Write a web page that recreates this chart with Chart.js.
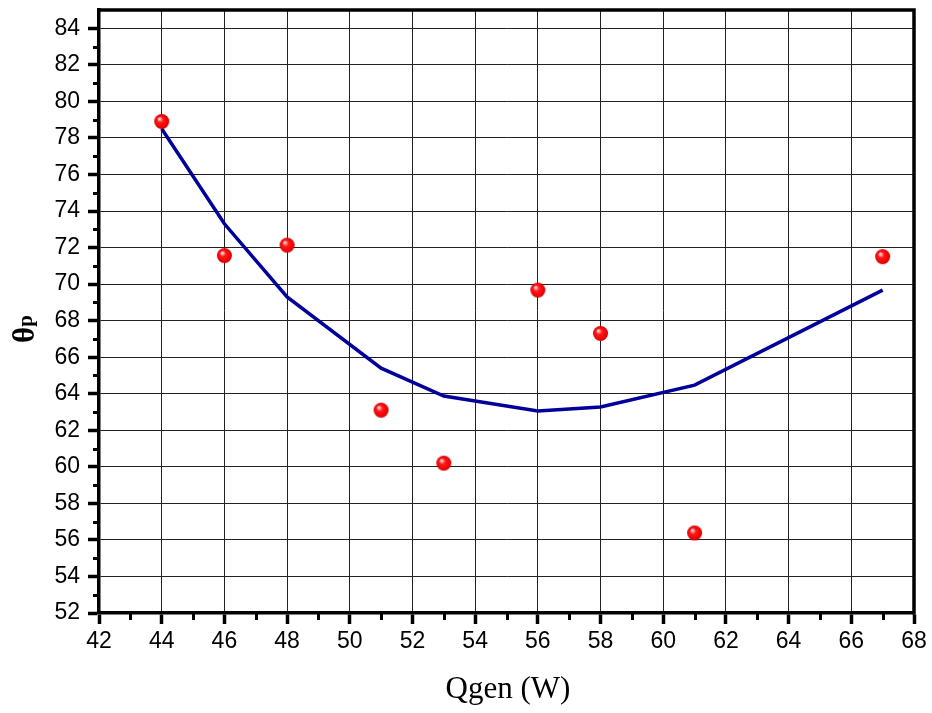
<!DOCTYPE html>
<html>
<head>
<meta charset="utf-8">
<script src="https://cdn.jsdelivr.net/npm/chart.js@4.4.1/dist/chart.umd.min.js"></script>
<style>
html,body{margin:0;padding:0;background:#fff;}
#wrap{width:932px;height:713px;position:relative;}
</style>
</head>
<body>
<div id="wrap"><canvas id="c" width="932" height="713"></canvas></div>
<script>
// Data
const qgen = [44, 46, 48, 51, 53, 56, 58, 61, 67];
const thetaMeasured = [78.9, 71.56, 72.13, 63.1, 60.2, 69.67, 67.3, 56.38, 71.5];
const thetaFitted = [78.5, 73.3, 69.3, 65.4, 63.87, 63.05, 63.27, 64.47, 69.67];
const xTickRange = [42, 68];
const yTickRange = [52, 85];
const tickStep = 2;
const xTitle = 'Qgen (W)';
const yTitleMain = 'θ';
const yTitleSub = 'p';

// sphere-like red marker
function makeSphere(r) {
  const s = r * 2 + 2;
  const cv = document.createElement('canvas');
  cv.width = s; cv.height = s;
  const g = cv.getContext('2d');
  const c = s / 2;
  const grad = g.createRadialGradient(c - r * 0.35, c - r * 0.4, 0, c, c, r);
  grad.addColorStop(0, '#ffffff');
  grad.addColorStop(0.18, '#ffa0a0');
  grad.addColorStop(0.4, '#ff1a1a');
  grad.addColorStop(0.85, '#f00000');
  grad.addColorStop(1, '#c00000');
  g.fillStyle = grad;
  g.beginPath(); g.arc(c, c, r, 0, Math.PI * 2); g.fill();
  return cv;
}
const sphere = makeSphere(7.5);

const framePlugin = {
  id: 'frame',
  afterDraw(chart) {
    const ctx = chart.ctx;
    const a = chart.chartArea;
    const xs = chart.scales.x, ys = chart.scales.y;
    ctx.save();
    ctx.strokeStyle = '#000';
    // top and right borders
    ctx.lineWidth = 3.5;
    ctx.beginPath();
    ctx.moveTo(a.left - 1.5, a.top);
    ctx.lineTo(a.right, a.top);
    ctx.lineTo(a.right, a.bottom + 1.5);
    ctx.stroke();
    // minor ticks
    ctx.lineWidth = 3;
    for (let v = xTickRange[0] + 1; v < xTickRange[1]; v += tickStep) {
      const px = Math.round(xs.getPixelForValue(v)) + 0.5;
      ctx.beginPath(); ctx.moveTo(px, a.bottom); ctx.lineTo(px, a.bottom + 7); ctx.stroke();
    }
    for (let v = yTickRange[0] + 1; v < yTickRange[1]; v += tickStep) {
      const py = Math.round(ys.getPixelForValue(v)) + 0.5;
      ctx.beginPath(); ctx.moveTo(a.left, py); ctx.lineTo(a.left - 6, py); ctx.stroke();
    }
    // x title
    ctx.fillStyle = '#000';
    ctx.font = '31px "Liberation Serif", "Times New Roman", serif';
    ctx.textAlign = 'center';
    ctx.textBaseline = 'alphabetic';
    ctx.fillText(xTitle, 508, 698);
    // y title, rotated
    ctx.translate(0, 329);
    ctx.rotate(-Math.PI / 2);
    ctx.font = 'bold 31px "Liberation Serif", "Times New Roman", serif';
    const wMain = ctx.measureText(yTitleMain).width;
    ctx.font = 'bold 21px "Liberation Serif", "Times New Roman", serif';
    const wSub = ctx.measureText(yTitleSub).width;
    const start = -(wMain + wSub) / 2;
    ctx.textAlign = 'left';
    ctx.font = 'bold 31px "Liberation Serif", "Times New Roman", serif';
    ctx.fillText(yTitleMain, start, 34);
    ctx.font = 'bold 21px "Liberation Serif", "Times New Roman", serif';
    ctx.fillText(yTitleSub, start + wMain, 32);
    ctx.restore();
  }
};

const gridCommon = {
  color: '#222',
  lineWidth: 1,
  drawTicks: true,
  tickLength: 11,
  tickColor: '#000',
  tickWidth: 3.5
};

new Chart(document.getElementById('c'), {
  type: 'scatter',
  data: {
    datasets: [
      {
        label: 'measured',
        data: qgen.map((x, i) => ({ x: x, y: thetaMeasured[i] })),
        pointStyle: sphere,
        pointRadius: 7.5,
        pointHoverRadius: 7.5,
        showLine: false
      },
      {
        label: 'fit',
        data: qgen.map((x, i) => ({ x: x, y: thetaFitted[i] })),
        showLine: true,
        borderColor: '#00009a',
        borderWidth: 3.5,
        pointRadius: 0,
        pointHoverRadius: 0,
        tension: 0,
        fill: false
      }
    ]
  },
  options: {
    responsive: false,
    animation: false,
    events: [],
    layout: { padding: { left: 0, right: 18, top: 10, bottom: 0 } },
    plugins: { legend: { display: false }, tooltip: { enabled: false } },
    scales: {
      x: {
        type: 'linear',
        min: xTickRange[0],
        max: xTickRange[1],
        grid: gridCommon,
        border: { display: true, color: '#000', width: 3.5 },
        ticks: {
          stepSize: tickStep,
          includeBounds: false,
          color: '#000',
          padding: 4,
          maxRotation: 0,
          autoSkip: false,
          font: { family: '"Liberation Sans", Arial, sans-serif', size: 23 }
        },
        afterFit(s) { s.height = 100; s.paddingLeft = 0; s.paddingRight = 0; }
      },
      y: {
        type: 'linear',
        min: yTickRange[0],
        max: yTickRange[1],
        grid: gridCommon,
        border: { display: true, color: '#000', width: 3.5 },
        ticks: {
          stepSize: tickStep,
          includeBounds: false,
          color: '#000',
          padding: 8,
          autoSkip: false,
          font: { family: '"Liberation Sans", Arial, sans-serif', size: 23 }
        },
        afterFit(s) { s.width = 99; s.paddingTop = 0; s.paddingBottom = 0; }
      }
    }
  },
  plugins: [framePlugin]
});
</script>
</body>
</html>
